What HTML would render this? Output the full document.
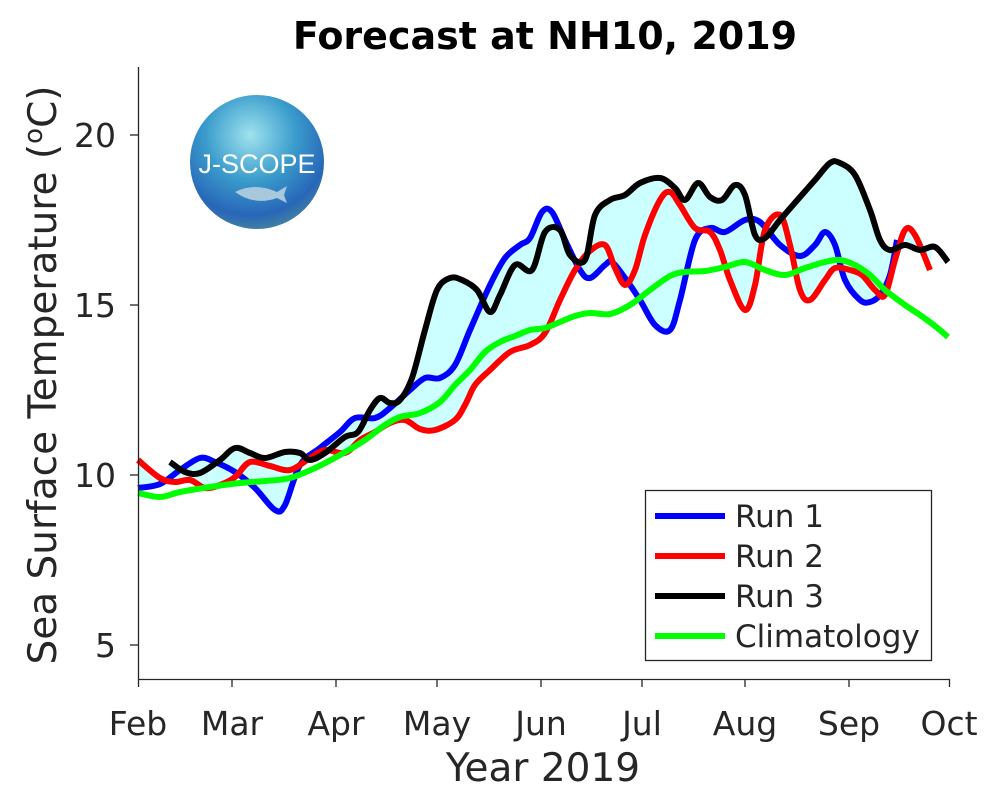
<!DOCTYPE html>
<html><head><meta charset="utf-8"><style>
html,body{margin:0;padding:0;background:#fff;width:1000px;height:802px;overflow:hidden}
text{font-family:"DejaVu Sans","Liberation Sans",sans-serif;fill:#262626}
</style></head><body>
<svg id="s" width="1000" height="802" xmlns="http://www.w3.org/2000/svg">
<defs>
<radialGradient id="lg" cx="0.45" cy="0.3" r="0.75">
<stop offset="0" stop-color="#9fe3ee"/><stop offset="0.45" stop-color="#3a9ccc"/><stop offset="0.8" stop-color="#2866b8"/><stop offset="1" stop-color="#4a8a9a"/>
</radialGradient>
</defs>
<g id="fill"></g>
<g id="lines"></g>
<circle cx="257" cy="162" r="67" fill="url(#lg)"/>
<text x="257" y="173" text-anchor="middle" style="font-family:'Liberation Sans',sans-serif;font-size:27px;fill:#fff">J-SCOPE</text>
<path d="M235 192 q20 -10 42 0 l10 -6 l-3 9 l3 8 l-10 -5 q-22 8 -42 -6z" fill="#a8c8dc"/>
<line x1="138.5" y1="67" x2="138.5" y2="679.5" stroke="#262626" stroke-width="1.3"/>
<line x1="138" y1="679.5" x2="950" y2="679.5" stroke="#262626" stroke-width="1.3"/>
<g stroke="#262626" stroke-width="1.3">
<line x1="130" y1="135" x2="138" y2="135"/><line x1="130" y1="305" x2="138" y2="305"/><line x1="130" y1="475" x2="138" y2="475"/><line x1="130" y1="645" x2="138" y2="645"/>
<line x1="138.5" y1="679" x2="138.5" y2="687"/><line x1="232" y1="679" x2="232" y2="687"/><line x1="336" y1="679" x2="336" y2="687"/><line x1="437" y1="679" x2="437" y2="687"/><line x1="541" y1="679" x2="541" y2="687"/><line x1="642" y1="679" x2="642" y2="687"/><line x1="745" y1="679" x2="745" y2="687"/><line x1="849" y1="679" x2="849" y2="687"/><line x1="949.5" y1="679" x2="949.5" y2="687"/>
</g>
<g style="font-size:33px" text-anchor="end">
<text x="116" y="147">20</text><text x="116" y="317">15</text><text x="116" y="487">10</text><text x="116" y="657">5</text>
</g>
<g style="font-size:33px" text-anchor="middle">
<text x="138" y="735">Feb</text><text x="232" y="735">Mar</text><text x="336" y="735">Apr</text><text x="437" y="735">May</text><text x="541" y="735">Jun</text><text x="642" y="735">Jul</text><text x="745" y="735">Aug</text><text x="849" y="735">Sep</text><text x="949" y="735">Oct</text>
</g>
<text x="543" y="781" text-anchor="middle" style="font-size:39px">Year 2019</text>
<text transform="translate(56,375) rotate(-90)" text-anchor="middle" style="font-size:39px">Sea Surface Temperature (<tspan dy="-14" style="font-size:26px">o</tspan><tspan dy="14">C)</tspan></text>
<text x="545" y="49" text-anchor="middle" style="font-size:38px;font-weight:bold;fill:#000">Forecast at NH10, 2019</text>
<rect x="645.5" y="490.5" width="286" height="170" fill="#fff" stroke="#262626" stroke-width="1.3"/>
<g stroke-width="6">
<line x1="655" y1="516" x2="725" y2="516" stroke="#0000ff"/>
<line x1="655" y1="556" x2="725" y2="556" stroke="#ff0000"/>
<line x1="655" y1="596" x2="725" y2="596" stroke="#000"/>
<line x1="655" y1="636" x2="725" y2="636" stroke="#00ff00"/>
</g>
<g style="font-size:31px">
<text x="735" y="527">Run 1</text><text x="735" y="567">Run 2</text><text x="735" y="607">Run 3</text><text x="735" y="647">Climatology</text>
</g>
</svg>
<script>
(function(){
var B=[[138,488],[160,484],[180,470],[200,458],[215,462],[235,472],[255,488],[275,510],[285,505],[300,465],[320,448],[340,432],[355,418],[375,418],[390,408],[410,390],[425,378],[440,378],[455,365],[470,330],[490,285],[505,258],[520,245],[530,238],[542,212],[552,212],[565,240],[580,270],[590,278],[605,265],[612,262],[625,278],[640,300],[655,325],[670,330],[680,300],[695,240],[710,228],[725,232],[745,220],[760,222],[780,245],[800,256],[815,245],[825,232],[835,245],[845,280],[860,300],[870,302],[880,295],[890,275],[897,240]];
var R=[[138,460],[160,478],[175,482],[190,480],[205,488],[220,485],[235,477],[250,462],[270,466],[290,470],[310,458],[325,450],[345,453],[360,440],[375,432],[390,423],[405,420],[420,429],[435,430],[455,420],[465,405],[475,385],[490,370],[510,352],[530,345],[545,333],[560,300],[575,270],[590,251],[605,245],[615,268],[625,285],[635,270],[645,235],[660,200],[670,192],[680,205],[695,228],[710,232],[720,250],[730,280],[745,310],[755,285],[765,230],[780,215],[790,245],[800,290],[810,300],[825,280],[835,268],[850,270],[862,275],[875,290],[885,295],[895,260],[905,230],[915,235],[930,270]];
var K=[[170,462],[185,472],[200,473],[220,460],[235,448],[250,453],[265,458],[285,452],[300,453],[310,460],[325,453],[345,437],[358,432],[370,410],[380,398],[390,403],[400,400],[412,378],[425,330],[437,290],[450,278],[462,280],[477,290],[490,312],[500,295],[515,265],[532,270],[545,232],[560,230],[570,255],[585,260],[595,215],[610,200],[625,195],[640,183],[660,178],[675,188],[685,200],[698,183],[710,197],[722,200],[735,185],[745,195],[755,235],[765,238],[780,220],[800,197],[815,180],[830,163],[840,163],[855,175],[870,210],[880,240],[890,250],[905,245],[920,250],[935,247],[948,262]];
var G=[[138,493],[160,497],[180,492],[210,487],[240,483],[265,481],[290,478],[315,468],[340,455],[365,440],[385,425],[400,417],[420,413],[440,402],[455,385],[470,370],[485,352],[500,342],[515,336],[530,330],[545,328],[560,322],[575,316],[590,313],[610,314],[630,305],[650,290],[670,276],[685,272],[705,271],[725,267],[745,262],[765,270],[785,275],[805,268],[825,262],[840,260],[855,265],[870,275],[885,290],[905,305],[920,315],[935,326],[948,337]];
function path(p){var d="M"+p[0][0]+","+p[0][1];for(var i=0;i<p.length-1;i++){var a=p[i-1]||p[i],b=p[i],c=p[i+1],e=p[i+2]||c;d+=" C"+(b[0]+(c[0]-a[0])/6)+","+(b[1]+(c[1]-a[1])/6)+" "+(c[0]-(e[0]-b[0])/6)+","+(c[1]-(e[1]-b[1])/6)+" "+c[0]+","+c[1];}return d;}
function at(p,x){if(x<p[0][0]||x>p[p.length-1][0])return null;for(var i=0;i<p.length-1;i++){if(x<=p[i+1][0]){var t=(x-p[i][0])/(p[i+1][0]-p[i][0]);return p[i][1]+t*(p[i+1][1]-p[i][1]);}}return p[p.length-1][1];}
var upper=[],lower=[];
for(var x=138;x<=948;x+=2){var v=[at(B,x),at(R,x),at(K,x)].filter(function(z){return z!==null});if(v.length<1)continue;upper.push([x,Math.min.apply(null,v)]);lower.push([x,Math.max.apply(null,v)]);}
var pts=upper.concat(lower.reverse()).map(function(q){return q.join(",")}).join(" ");
var NS="http://www.w3.org/2000/svg";
var pg=document.createElementNS(NS,"polygon");pg.setAttribute("points",pts);pg.setAttribute("fill","#ccffff");document.getElementById("fill").appendChild(pg);
[[B,"#0000ff"],[R,"#ff0000"],[K,"#000000"],[G,"#00ff00"]].forEach(function(s){var e=document.createElementNS(NS,"path");e.setAttribute("d",path(s[0]));e.setAttribute("fill","none");e.setAttribute("stroke",s[1]);e.setAttribute("stroke-width","6");e.setAttribute("stroke-linejoin","round");document.getElementById("lines").appendChild(e);});
})();
</script>
</body></html>
